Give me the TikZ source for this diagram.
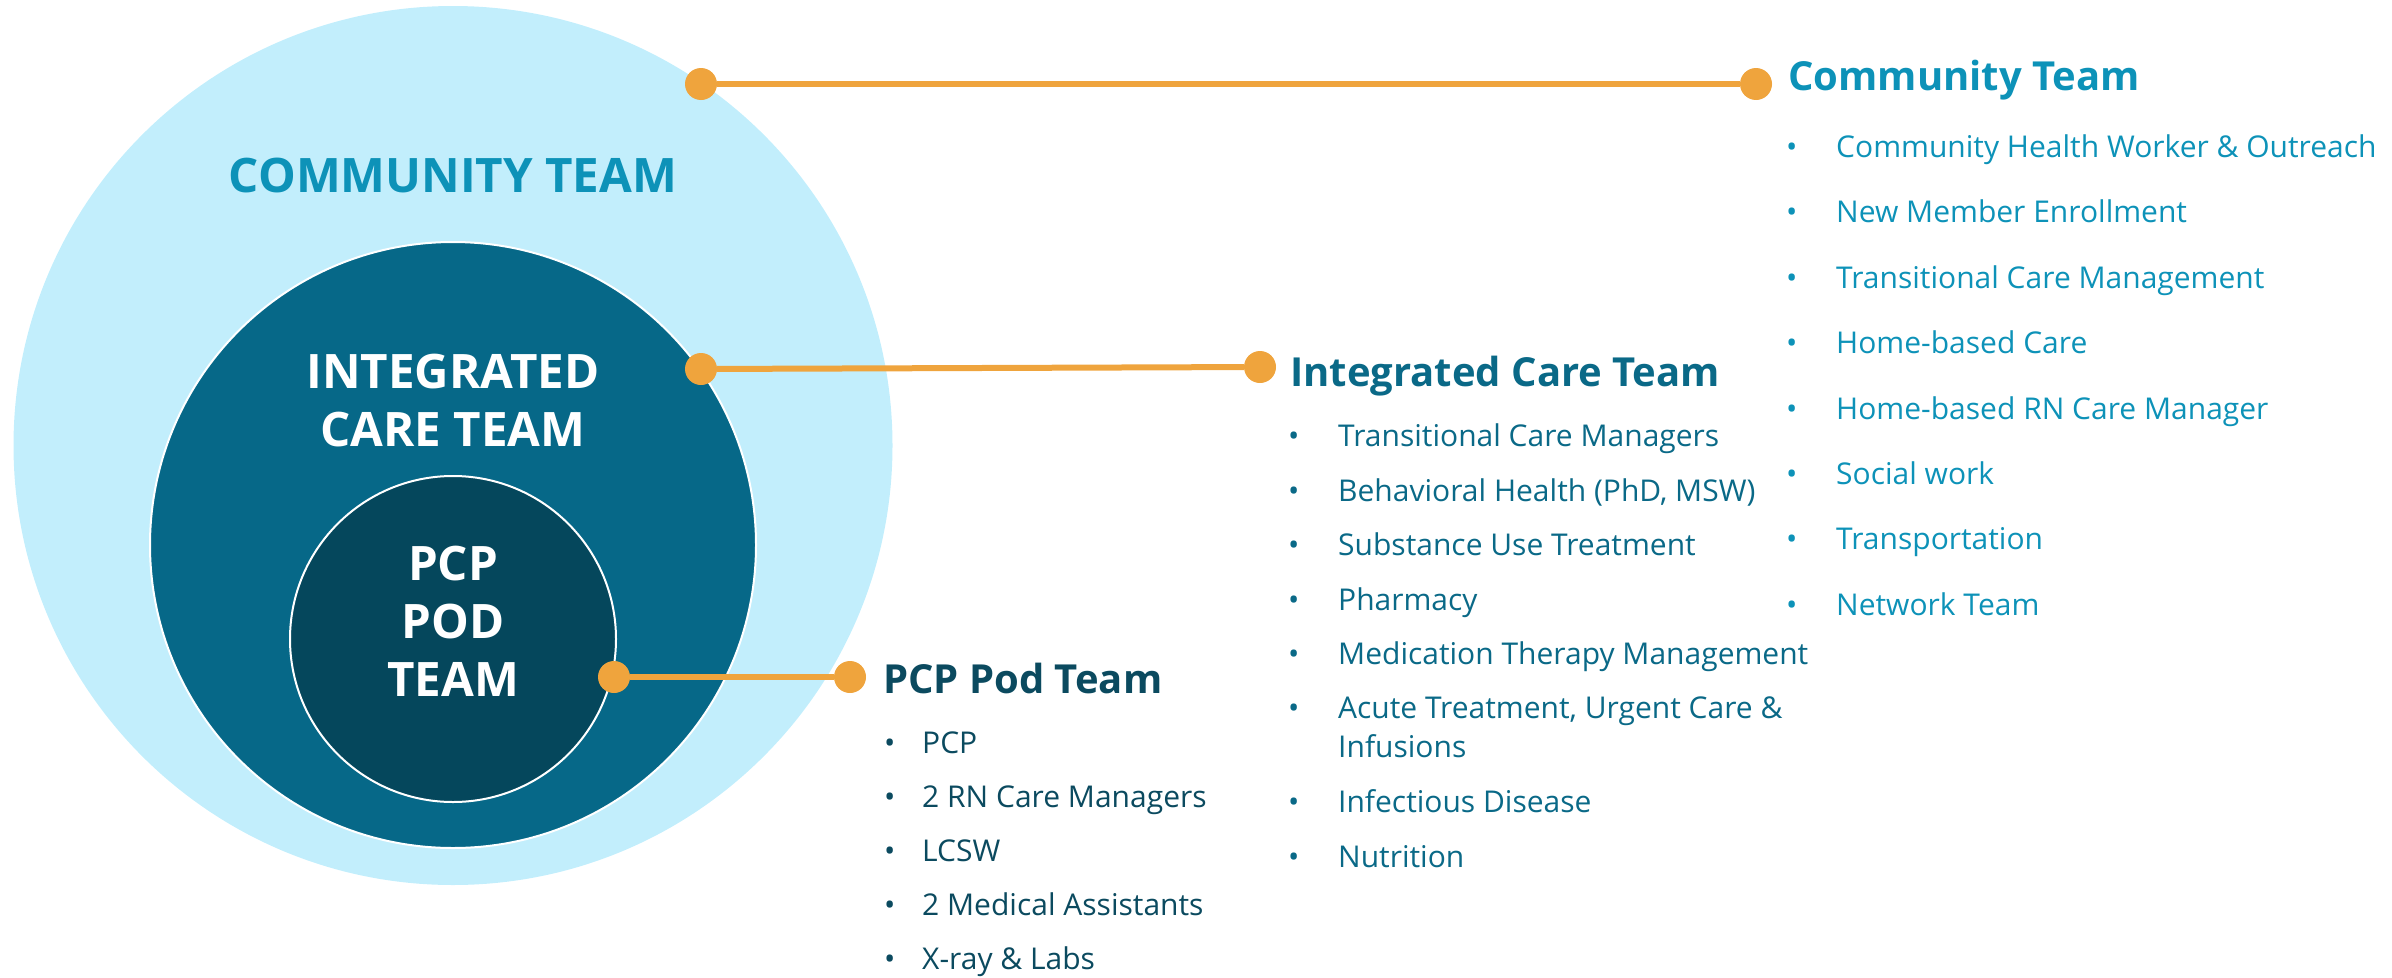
\documentclass[tikz,border=0pt]{standalone}
\usepackage{fontspec}
\setmainfont{Open Sans}
\usetikzlibrary{positioning}

\definecolor{commfill}{HTML}{C2EEFC}
\definecolor{intfill}{HTML}{066888}
\definecolor{podfill}{HTML}{05475C}
\definecolor{linkorange}{HTML}{EFA43D}
\definecolor{commtext}{HTML}{0D92B8}
\definecolor{inttext}{HTML}{0A6987}
\definecolor{podtext}{HTML}{0B4A5F}

% bullet followed by a fixed gap
\newcommand{\bul}[1]{\makebox[#1][l]{\textbullet}}

\begin{document}
\begin{tikzpicture}[x=1pt, y=-1pt, inner sep=0pt,
    ring/.style={circle, draw=white, line width=2pt},
    dot/.style={circle, fill=linkorange, minimum size=32pt},
    link/.style={draw=linkorange, line width=6pt},
    label/.style={text=white, font=\bfseries\fontsize{47.5}{58}\selectfont, align=center},
    heading/.style={anchor=base west, font=\bfseries\fontsize{40}{48}\selectfont},
    entry/.style={anchor=base west, font=\fontsize{30}{38.5}\selectfont, align=left}]
    \useasboundingbox (0,0) rectangle (2392,977);

    % Circles {community, integrated, pod}
    \node [circle, fill=commfill, minimum size=879pt] (community) at (453,445.5) {};
    \node [ring, fill=intfill, minimum size=606pt]    (integrated) at (453,545) {};
    \node [ring, fill=podfill, minimum size=326pt]    (pod) at (453,639) {};

    % Labels (base = last line)
    \node [label, text=commtext, anchor=base] (commlabel) at (453,192) {COMMUNITY TEAM};
    \node [label, anchor=base] (intlabel) at (453,446) {INTEGRATED\\CARE TEAM};
    \node [label, anchor=base] (podlabel) at (453,696) {PCP\\POD\\TEAM};

    % Dots and links
    \node [dot] (c1) at (701,84)  {};
    \node [dot] (c2) at (1756,84) {};
    \node [dot] (i1) at (701,369) {};
    \node [dot] (i2) at (1260,367) {};
    \node [dot] (p1) at (614,677) {};
    \node [dot] (p2) at (850,677) {};

    \path [link] (c1) -- (c2);
    \path [link] (i1) -- (i2);
    \path [link] (p1) -- (p2);

    % Community team list
    \node [heading, text=commtext] (commhead) at (1788,90) {Community Team};
    \node [entry, text=commtext] (comm1) at (1786,157) {\bul{50pt}Community Health Worker \& Outreach};
    \node [entry, text=commtext] (comm2) at (1786,222) {\bul{50pt}New Member Enrollment};
    \node [entry, text=commtext] (comm3) at (1786,288) {\bul{50pt}Transitional Care Management};
    \node [entry, text=commtext] (comm4) at (1786,353) {\bul{50pt}Home-based Care};
    \node [entry, text=commtext] (comm5) at (1786,419) {\bul{50pt}Home-based RN Care Manager};
    \node [entry, text=commtext] (comm6) at (1786,484) {\bul{50pt}Social work};
    \node [entry, text=commtext] (comm7) at (1786,549) {\bul{50pt}Transportation};
    \node [entry, text=commtext] (comm8) at (1786,615) {\bul{50pt}Network Team};

    % Integrated care team list
    \node [heading, text=inttext] (inthead) at (1290,386) {Integrated Care Team};
    \node [entry, text=inttext] (int1) at (1288,446) {\bul{50pt}Transitional Care Managers};
    \node [entry, text=inttext] (int2) at (1288,501) {\bul{50pt}Behavioral Health (PhD, MSW)};
    \node [entry, text=inttext] (int3) at (1288,555) {\bul{50pt}Substance Use Treatment};
    \node [entry, text=inttext] (int4) at (1288,610) {\bul{50pt}Pharmacy};
    \node [entry, text=inttext] (int5) at (1288,664) {\bul{50pt}Medication Therapy Management};
    \node [entry, text=inttext] (int6) at (1288,757) {\bul{50pt}Acute Treatment, Urgent Care \&\\\hspace*{50pt}Infusions};
    \node [entry, text=inttext] (int7) at (1288,812) {\bul{50pt}Infectious Disease};
    \node [entry, text=inttext] (int8) at (1288,867) {\bul{50pt}Nutrition};

    % PCP pod team list
    \node [heading, text=podtext] (podhead) at (883,693) {PCP Pod Team};
    \node [entry, text=podtext] (pod1) at (884,753) {\bul{38pt}PCP};
    \node [entry, text=podtext] (pod2) at (884,807) {\bul{38pt}2 RN Care Managers};
    \node [entry, text=podtext] (pod3) at (884,861) {\bul{38pt}LCSW};
    \node [entry, text=podtext] (pod4) at (884,915) {\bul{38pt}2 Medical Assistants};
    \node [entry, text=podtext] (pod5) at (884,969) {\bul{38pt}X-ray \& Labs};
\end{tikzpicture}
\end{document}
